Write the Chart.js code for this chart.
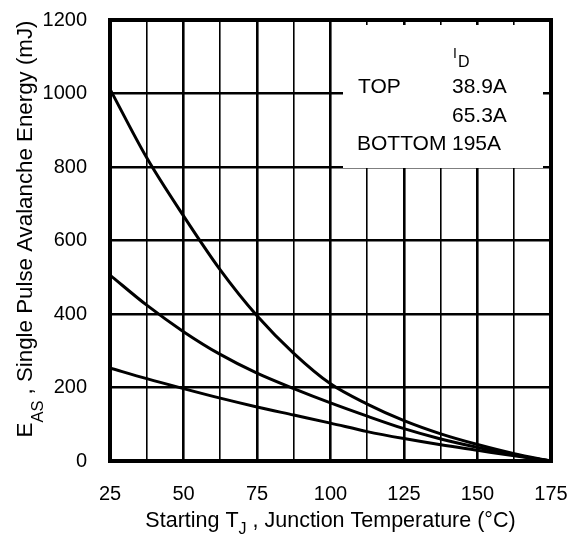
<!DOCTYPE html>
<html>
<head>
<meta charset="utf-8">
<script src="https://cdn.jsdelivr.net/npm/chart.js@4.4.1/dist/chart.umd.min.js"></script>
<style>
    body { margin: 0; background: #fff; }
    #wrap { width: 572px; height: 544px; position: relative; }
</style>
</head>
<body>
<div id="wrap"><canvas id="easChart"></canvas></div>
<script>
// Starting junction temperature (°C)
const temps = [25, 37.5, 50, 62.5, 75, 87.5, 100, 112.5, 125, 137.5, 150, 162.5, 175];
// EAS (mJ) for each ID
const easTop = [1012, 825, 667, 520, 395, 293, 210, 155, 110, 74, 45, 20, 0];     // 38.9A
const easMid = [506, 424, 352, 290, 239, 197, 158, 122, 88, 60, 37, 16, 0];      // 65.3A
const easBottom = [253, 224, 197, 171, 147, 125, 103, 80, 61, 44, 29, 14, 0];    // 195A
const xTicks = [25, 50, 75, 100, 125, 150, 175];
const yTicks = [0, 200, 400, 600, 800, 1000, 1200];

const FONT = '"Liberation Sans", Arial, Helvetica, sans-serif';

function toPoints(values) {
    return temps.map((t, i) => ({ x: t, y: values[i] }));
}

function lineSet(label, values) {
    return {
        label: label,
        data: toPoints(values),
        borderColor: '#000',
        borderWidth: 3,
        pointRadius: 0,
        cubicInterpolationMode: 'monotone',
        fill: false
    };
}

// drop the label overflow padding so the plot area sits where the layout padding says
function noOverflow(s) {
    s.paddingTop = 0;
    s.paddingBottom = 0;
    s.paddingLeft = 0;
    s.paddingRight = 0;
}

// legend box, axis titles with subscripts, thick frame
const decorPlugin = {
    id: 'decor',
    beforeDatasetsDraw(chart) {
        const c = chart.ctx;
        c.save();
        c.fillStyle = '#fff';
        c.fillRect(343, 25, 200, 143);
        c.fillStyle = '#000';
        c.textBaseline = 'alphabetic';
        c.textAlign = 'left';
        c.font = '14px ' + FONT;
        c.fillText('I', 453, 58);
        c.font = '16px ' + FONT;
        c.fillText('D', 458, 66.5);
        c.font = '21px ' + FONT;
        c.fillText('TOP', 358, 93);
        c.fillText('38.9A', 452, 93);
        c.fillText('65.3A', 452, 121.5);
        c.fillText('BOTTOM', 357, 150);
        c.fillText('195A', 452, 150);
        c.restore();
    },
    afterDraw(chart) {
        const c = chart.ctx;
        const a = chart.chartArea;
        c.save();
        c.strokeStyle = '#000';
        c.lineWidth = 4;
        c.strokeRect(a.left, a.top, a.right - a.left, a.bottom - a.top);

        c.fillStyle = '#000';
        c.textBaseline = 'alphabetic';
        c.textAlign = 'left';

        // x title
        let main = '21.5px ' + FONT;
        let sub = '16px ' + FONT;
        const xa = 'Starting T', xs = 'J', xb = ' , Junction Temperature (°C)';
        c.font = main;
        const wa = c.measureText(xa).width, wb = c.measureText(xb).width;
        c.font = sub;
        const ws = c.measureText(xs).width;
        let x = 330.5 - (wa + ws + wb) / 2;
        c.font = main; c.fillText(xa, x, 527); x += wa;
        c.font = sub; c.fillText(xs, x, 534); x += ws;
        c.font = main; c.fillText(xb, x, 527);

        // y title, rotated
        main = '22.3px ' + FONT;
        sub = '16.5px ' + FONT;
        const ya = 'E', ys = 'AS', yb = ' , Single Pulse Avalanche Energy (mJ)';
        c.font = main;
        const va = c.measureText(ya).width, vb = c.measureText(yb).width;
        c.font = sub;
        const vs = c.measureText(ys).width;
        c.translate(32, 229);
        c.rotate(-Math.PI / 2);
        let p = -(va + vs + vb) / 2;
        c.font = main; c.fillText(ya, p, 0); p += va;
        c.font = sub; c.fillText(ys, p, 10.5); p += vs;
        c.font = main; c.fillText(yb, p, 0);
        c.restore();
    }
};

new Chart(document.getElementById('easChart'), {
    type: 'line',
    data: {
        datasets: [
            lineSet('38.9A', easTop),
            lineSet('65.3A', easMid),
            lineSet('195A', easBottom)
        ]
    },
    options: {
        responsive: true,
        maintainAspectRatio: false,
        animation: false,
        layout: { padding: { top: 20, right: 21, left: 0, bottom: 0 } },
        plugins: {
            legend: { display: false },
            tooltip: { enabled: false }
        },
        scales: {
            x: {
                type: 'linear',
                min: 25,
                max: 175,
                afterFit: s => { s.height = 83; noOverflow(s); },
                border: { display: false },
                grid: {
                    color: '#000',
                    drawTicks: false,
                    lineWidth: ctx => (ctx.tick && ctx.tick.value % 25 === 0) ? 2.6 : 1.6
                },
                ticks: {
                    stepSize: 12.5,
                    autoSkip: false,
                    maxRotation: 0,
                    padding: 21,
                    color: '#000',
                    font: { family: FONT, size: 20 },
                    callback: v => xTicks.includes(v) ? String(v) : ''
                }
            },
            y: {
                min: 0,
                max: 1200,
                afterFit: s => { s.width = 110; noOverflow(s); },
                border: { display: false },
                grid: {
                    color: '#000',
                    drawTicks: false,
                    lineWidth: 2.6
                },
                ticks: {
                    stepSize: 200,
                    padding: 23,
                    color: '#000',
                    font: { family: FONT, size: 20 },
                    callback: v => yTicks.includes(v) ? String(v) : ''
                }
            }
        }
    },
    plugins: [decorPlugin]
});
</script>
</body>
</html>
